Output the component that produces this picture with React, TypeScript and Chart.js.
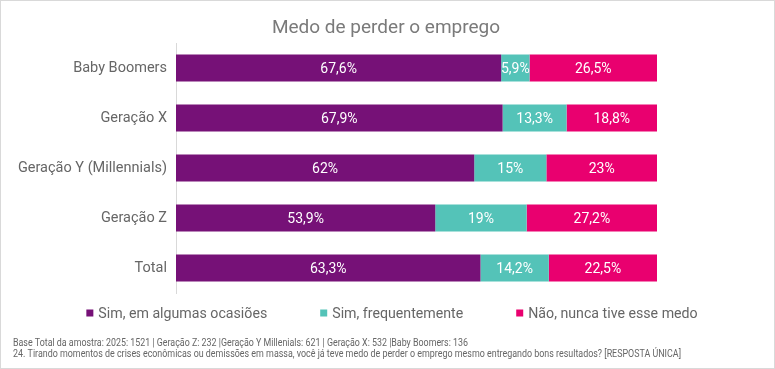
import React, { useEffect, useRef } from "react";
import { Chart, registerables } from "chart.js";

Chart.register(...registerables);

const title = "Medo de perder o emprego";
const categories = ["Baby Boomers", "Geração X", "Geração Y (Millennials)", "Geração Z", "Total"];
const seriesNames = ["Sim, em algumas ocasiões", "Sim, frequentemente", "Não, nunca tive esse medo"];
const simAlgumas = [67.6, 67.9, 62, 53.9, 63.3];
const simFrequente = [5.9, 13.3, 15, 19, 14.2];
const naoNunca = [26.5, 18.8, 23, 27.2, 22.5];
const seriesColors = ["#761177", "#54C3B8", "#E9006F"];
const footnotes = [
  "Base Total da amostra: 2025: 1521 | Geração Z: 232 |Geração Y Millenials: 621 | Geração X: 532 |Baby Boomers: 136",
  "24. Tirando momentos de crises econômicas ou demissões em massa, você já teve medo de perder o emprego mesmo entregando bons resultados? [RESPOSTA ÚNICA]",
];

const fmt = (v: number) => String(v).replace(".", ",") + "%";

const W = 775;
const H = 369;

const decorPlugin = {
  id: "decor",
  beforeDraw(chart: any) {
    const ctx = chart.ctx;
    ctx.save();
    ctx.fillStyle = "#ffffff";
    ctx.fillRect(0, 0, W, H);
    ctx.strokeStyle = "#d9d9d9";
    ctx.lineWidth = 1;
    ctx.strokeRect(0.5, 0.5, W - 1, H - 1);
    ctx.restore();
  },
  afterDatasetsDraw(chart: any) {
    const ctx = chart.ctx;
    ctx.save();
    ctx.font = "14px Roboto";
    ctx.fillStyle = "#ffffff";
    ctx.textAlign = "center";
    ctx.textBaseline = "middle";
    chart.data.datasets.forEach((ds: any, i: number) => {
      const meta = chart.getDatasetMeta(i);
      meta.data.forEach((bar: any, j: number) => {
        const p = bar.getProps(["x", "y", "base"], true);
        const right = Math.min(p.x, chart.chartArea.right);
        ctx.fillText(fmt(ds.data[j]), (right + p.base) / 2, p.y + 1);
      });
    });
    ctx.restore();
  },
  afterDraw(chart: any) {
    const ctx = chart.ctx;
    ctx.save();
    // title
    ctx.font = "19px Roboto";
    ctx.fillStyle = "#7a7a7a";
    ctx.textAlign = "center";
    ctx.textBaseline = "alphabetic";
    ctx.fillText(title, 386, 33);

    // legend
    ctx.font = "15px Roboto";
    ctx.textAlign = "left";
    ctx.textBaseline = "middle";
    const box = 7;
    const boxGap = 5;
    const itemGap = 53;
    const squeeze = 0.945;
    const textW = seriesNames.map((n) => ctx.measureText(n).width * squeeze);
    const widths = textW.map((w) => box + boxGap + w);
    const total = widths.reduce((a, b) => a + b, 0) + itemGap * (seriesNames.length - 1);
    let x = 392 - total / 2;
    const ly = 313;
    seriesNames.forEach((n, i) => {
      ctx.fillStyle = seriesColors[i];
      ctx.fillRect(x, ly - box / 2, box, box);
      ctx.fillStyle = "#666666";
      ctx.fillText(n, x + box + boxGap, ly + 1, textW[i]);
      x += widths[i] + itemGap;
    });

    // footnotes
    ctx.font = "10px Roboto";
    ctx.fillStyle = "#666666";
    ctx.fillText(footnotes[0], 13, 343, 455);
    ctx.fillText(footnotes[1], 13, 354, 668);
    ctx.restore();
  },
};

export default function App() {
  const ref = useRef<HTMLCanvasElement | null>(null);
  useEffect(() => {
    if (!ref.current) return;
    const data = [simAlgumas, simFrequente, naoNunca];
    const chart = new Chart(ref.current, {
      type: "bar",
      data: {
        labels: categories,
        datasets: seriesNames.map((n, i) => ({
          label: n,
          data: data[i],
          backgroundColor: seriesColors[i],
          borderWidth: 0,
          barPercentage: 0.54,
          categoryPercentage: 1,
        })),
      },
      options: {
        indexAxis: "y",
        responsive: false,
        animation: false,
        devicePixelRatio: 1,
        layout: { padding: { left: 0, right: W - 657, top: 43, bottom: H - 293 } },
        plugins: {
          legend: { display: false },
          title: { display: false },
          tooltip: { enabled: false },
        },
        scales: {
          x: {
            stacked: true,
            min: 0,
            max: 100,
            display: false,
          },
          y: {
            stacked: true,
            afterFit(scale: any) {
              scale.width = 176;
            },
            grid: { display: true, color: "rgba(0,0,0,0)", drawTicks: false },
            border: { display: true, color: "#d9d9d9", width: 1 },
            ticks: {
              padding: 9,
              color: "#666666",
              font: { family: "Roboto", size: 14.5 },
            },
          },
        },
      },
      plugins: [decorPlugin],
    });
    return () => chart.destroy();
  }, []);
  return (
    <div style={{ position: "fixed", left: 0, top: 0, width: W, height: H }}>
      <canvas ref={ref} width={W} height={H} style={{ width: W, height: H, display: "block" }} />
    </div>
  );
}
